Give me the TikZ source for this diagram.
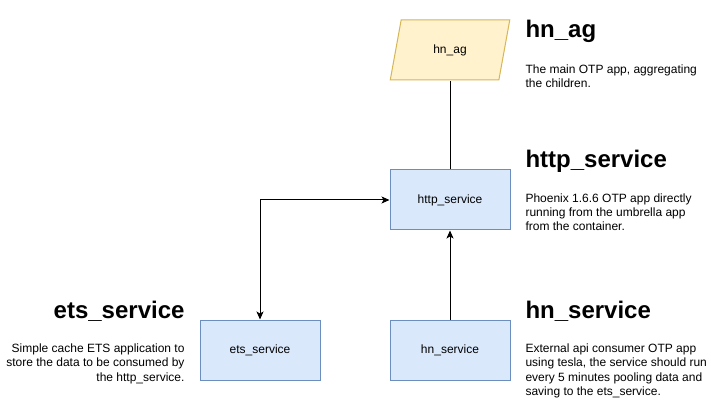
\documentclass[tikz,border=0pt]{standalone}
\usepackage{fontspec}
\setmainfont{Liberation Sans}
\usetikzlibrary{shapes.geometric,arrows.meta}

\definecolor{agfill}{HTML}{FFF2CC}
\definecolor{agdraw}{HTML}{D6B656}
\definecolor{svcfill}{HTML}{DAE8FC}
\definecolor{svcdraw}{HTML}{6C8EBF}

\begin{document}
\begin{tikzpicture}[x=1pt,y=-1pt,line width=1pt,
  svc/.style={draw=svcdraw,fill=svcfill,minimum width=120pt,minimum height=60pt,inner sep=0pt,font=\fontsize{12}{14.4}\selectfont},
  app/.style={draw=agdraw,fill=agfill,trapezium,trapezium left angle=71.57,trapezium right angle=108.43,trapezium stretches=true,minimum width=120pt,minimum height=60pt,inner sep=0pt,font=\fontsize{12}{14.4}\selectfont},
  head/.style={anchor=base west,inner sep=0pt,font=\fontsize{24}{28.8}\selectfont\bfseries},
  desc/.style={anchor=north west,inner sep=0pt,align=left,font=\fontsize{12}{14.4}\selectfont},
  tip/.style={-{Stealth[length=8pt,width=7pt,inset=2pt]}},
  tips/.style={{Stealth[length=8pt,width=7pt,inset=2pt]}-{Stealth[length=8pt,width=7pt,inset=2pt]}}]

  \useasboundingbox (0,0) rectangle (711,411);

  % % boxes
  \node[app] (hnag) at (450,50) {hn\_ag};
  \node[svc] (http) at (450,200) {http\_service};
  \node[svc] (ets) at (260,350) {ets\_service};
  \node[svc] (hns) at (450,350) {hn\_service};

  % % connectors
  \draw (http.north) -- (http.north |- hnag.south);
  \draw[tip] (hns.north) -- (http.south);
  \draw[tips] (http.west) -| (ets.north);

  % % descriptions
  \node[head] (hnaghead) at (525,38) {hn\_ag};
  \node[desc] (hnagtext) at (525,64.3) {The main OTP app, aggregating\\the children.};

  \node[head] (httphead) at (525,168) {http\_service};
  \node[desc] (httptext) at (525,193) {Phoenix 1.6.6 OTP app directly\\running from the umbrella app\\from the container.};

  \node[head] (hnshead) at (525,318) {hn\_service};
  \node[desc] (hnstext) at (525,343.3) {External api consumer OTP app\\using tesla, the service should run\\every 5 minutes pooling data and\\saving to the ets\_service.};

  \node[head,anchor=base east] (etshead) at (185,318) {ets\_service};
  \node[desc,anchor=north east,align=right] (etstext) at (185,343.3) {Simple cache ETS application to\\store the data to be consumed by\\the http\_service.};

\end{tikzpicture}
\end{document}
